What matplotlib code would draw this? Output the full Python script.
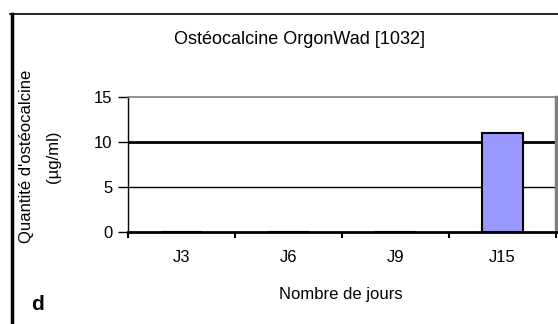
import matplotlib.pyplot as plt
from matplotlib.lines import Line2D
import numpy as np

plt.rcParams["font.family"] = ["Liberation Sans", "DejaVu Sans"]

days = ["J3", "J6", "J9", "J15"]
osteocalcin = [0, 0, 0, 11]
y_ticks = [0, 5, 10, 15]

W, H = 558, 324
fig = plt.figure(figsize=(W / 100, H / 100), dpi=100)
ax = fig.add_axes([128 / W, 1 - 232 / H, (556 - 128) / W, (232 - 97) / H])

x = np.arange(len(days))
ax.bar(x, osteocalcin, width=0.39, color="#9999ff", edgecolor="black",
       linewidth=1.5, zorder=3)
ax.set_xlim(-0.5, len(days) - 0.5)
ax.set_ylim(0, 15)

# gridlines: 10 drawn heavier than 5
ax.axhline(10, color="black", linewidth=2.0, zorder=1)
ax.axhline(5, color="black", linewidth=1.0, zorder=1)

ax.set_yticks(y_ticks)
ax.tick_params(axis="y", length=7, width=1, direction="out", labelsize=12, pad=4)
ax.set_xticks(x)
ax.set_xticks(np.arange(len(days) + 1) - 0.5, minor=True)
ax.tick_params(axis="x", which="major", length=0, pad=13)
ax.tick_params(axis="x", which="minor", length=4, width=1.5, direction="out")
ax.set_xticklabels(days, fontsize=12)

for side in ("top", "right"):
    ax.spines[side].set_color("#808080")
ax.spines["top"].set_linewidth(1.2)
ax.spines["right"].set_linewidth(2.5)
ax.spines["bottom"].set_linewidth(2.0)
ax.spines["left"].set_linewidth(1.0)

fig.text(300 / W, 1 - 40 / H, "Ostéocalcine OrgonWad [1032]", ha="center",
         va="center", fontsize=13)
fig.text(341 / W, 1 - 294 / H, "Nombre de jours", ha="center", va="center",
         fontsize=12)
fig.text(27 / W, 1 - 156 / H, "Quantité d'ostéocalcine", rotation=90,
         ha="center", va="center", fontsize=12)
fig.text(54 / W, 1 - 157 / H, "(µg/ml)", rotation=90, ha="center",
         va="center", fontsize=12)
fig.text(37 / W, 1 - 305 / H, "d", ha="center", va="center", fontsize=15,
         fontweight="bold")

# outer frame: thick left edge and thin top edge
fig.add_artist(Line2D([11.5 / W, 11.5 / W], [1 - 14 / H, 0], color="black",
                      linewidth=2.5))
fig.add_artist(Line2D([10 / W, 1], [1 - 14 / H, 1 - 14 / H], color="black",
                      linewidth=1.2))

fig.savefig("out.png", dpi=100)
